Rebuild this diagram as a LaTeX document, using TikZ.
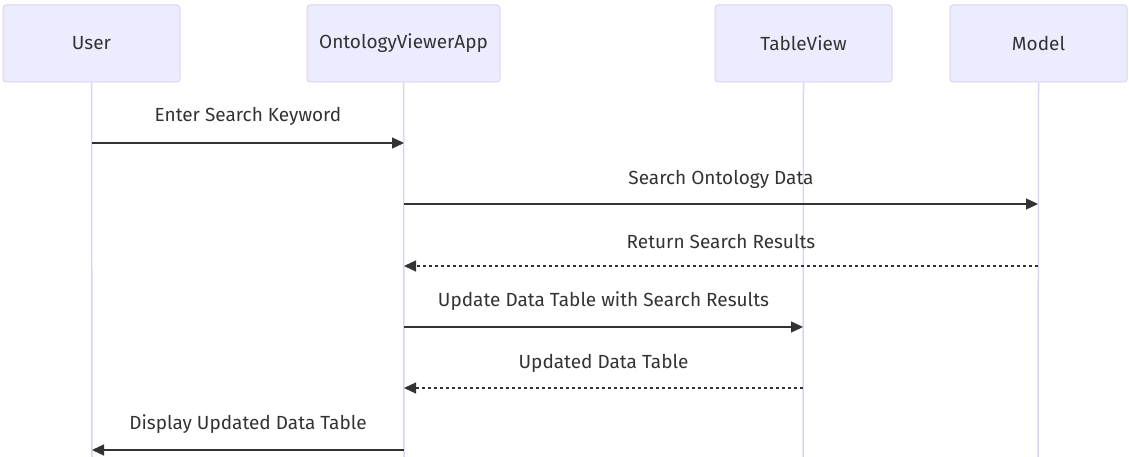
\documentclass[tikz,border=0pt]{standalone}
\usepackage{fontspec}
\setmainfont{Fira Sans}
\usetikzlibrary{arrows.meta}
\definecolor{actfill}{HTML}{ECECFF}
\definecolor{actline}{HTML}{DCD2F2}
\definecolor{lifeline}{HTML}{DCD2F2}
\definecolor{txt}{HTML}{333333}
\tikzset{
  actor/.style={draw=actline, fill=actfill, rounded corners=3pt, line width=1pt, minimum width=177pt, minimum height=77pt, inner sep=0pt, text=txt, font=\fontsize{19}{22}\selectfont},
  life/.style={draw=lifeline, line width=1.5pt},
  msg/.style={draw=txt, line width=1.3pt, -{Triangle[length=12pt,width=11pt]}},
  reply/.style={msg, dash pattern=on 3pt off 3pt},
  lbl/.style={text=txt, font=\fontsize{19}{22}\selectfont, inner sep=0pt}
}
\begin{document}
\begin{tikzpicture}[x=1pt,y=-1pt]
\useasboundingbox (0,0) rectangle (1129,457);
\node[actor] (user) at (91.5,43.5) {User};
\node[actor, minimum width=193pt] (app) at (403.5,43.5) {OntologyViewerApp};
\node[actor] (tv) at (803.5,43.5) {TableView};
\node[actor] (model) at (1038.5,43.5) {Model};
\coordinate (ue) at (92,457);
\coordinate (ae) at (404,457);
\coordinate (te) at (803,457);
\coordinate (me) at (1038,457);
\draw[life] (user.south) -- (ue);
\draw[life] (app.south) -- (ae);
\draw[life] (tv.south) -- (te);
\draw[life] (model.south) -- (me);
% message anchors
\coordinate (u1) at (92,143); \coordinate (a1) at (404,143);
\coordinate (a2) at (404,204); \coordinate (m2) at (1038,204);
\coordinate (m3) at (1038,266); \coordinate (a3) at (404,266);
\coordinate (a4) at (404,327); \coordinate (t4) at (803,327);
\coordinate (t5) at (803,388); \coordinate (a5) at (404,388);
\coordinate (a6) at (404,450); \coordinate (u6) at (92,450);
\draw[msg] (u1) -- (a1);
\node[lbl] (l1) at (248,116) {Enter Search Keyword};
\draw[msg] (a2) -- (m2);
\node[lbl] (l2) at (721,179) {Search Ontology Data};
\draw[reply] (m3) -- (a3);
\node[lbl] (l3) at (721,241) {Return Search Results};
\draw[msg] (a4) -- (t4);
\node[lbl] (l4) at (603.5,301) {Update Data Table with Search Results};
\draw[reply] (t5) -- (a5);
\node[lbl] (l5) at (603.5,363) {Updated Data Table};
\draw[msg] (a6) -- (u6);
\node[lbl] (l6) at (248,424) {Display Updated Data Table};
\end{tikzpicture}
\end{document}
